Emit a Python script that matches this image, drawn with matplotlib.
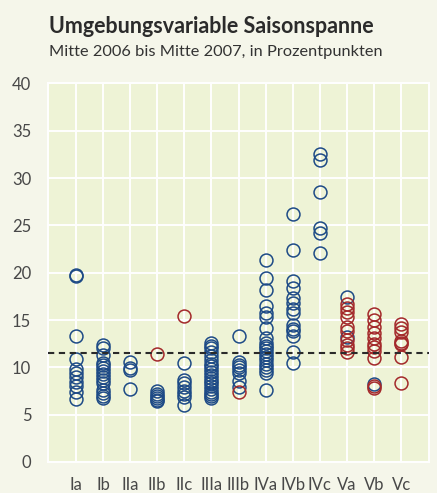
import matplotlib
matplotlib.use("Agg")
import matplotlib.pyplot as plt

categories = ["Ia", "Ib", "IIa", "IIb", "IIc", "IIIa", "IIIb", "IVa", "IVb", "IVc", "Va", "Vb", "Vc"]

blue_values = {
    "Ia": [19.8, 19.7, 13.3, 10.9, 9.8, 9.4, 9.0, 8.5, 8.0, 7.4, 6.7],
    "Ib": [12.4, 12.0, 11.3, 10.5, 10.2, 9.9, 9.6, 9.3, 9.0, 8.7, 8.3, 7.6, 7.3, 7.0, 6.8],
    "IIa": [10.6, 9.9, 9.7, 7.7],
    "IIb": [7.5, 7.2, 7.0, 6.8, 6.6, 6.4],
    "IIc": [10.5, 8.7, 8.3, 7.9, 7.5, 7.2, 6.9, 6.0],
    "IIIa": [12.6, 12.3, 12.0, 11.6, 11.2, 10.8, 10.4, 10.1, 9.8, 9.5, 9.2, 8.9, 8.6, 8.3, 8.0, 7.7, 7.4, 7.2, 7.0, 6.8],
    "IIIb": [13.3, 10.6, 10.3, 10.0, 9.7, 9.4, 8.6, 7.9],
    "IVa": [21.3, 19.4, 18.2, 16.5, 15.7, 15.3, 14.2, 13.1, 12.6, 12.3, 12.0, 11.7, 11.4, 11.1, 10.8, 10.4, 10.0, 9.7, 9.4, 7.6],
    "IVb": [26.2, 22.4, 19.1, 18.4, 17.3, 16.8, 16.2, 15.7, 14.5, 14.1, 13.8, 13.3, 11.6, 10.5],
    "IVc": [32.6, 31.9, 28.5, 24.7, 24.2, 22.1],
    "Va": [17.4, 13.2],
    "Vb": [8.2],
    "Vc": [],
}

red_values = {
    "IIb": [11.4],
    "IIc": [15.4],
    "IIIb": [7.4],
    "Va": [16.7, 16.3, 15.9, 15.3, 14.3, 13.8, 12.9, 12.4, 12.0, 11.6],
    "Vb": [15.6, 15.0, 14.3, 13.6, 13.1, 12.5, 12.2, 11.7, 11.0, 8.0, 7.8],
    "Vc": [14.6, 14.2, 13.7, 12.8, 12.6, 12.5, 11.1, 8.3],
}

reference_level = 11.55
y_ticks = [0, 5, 10, 15, 20, 25, 30, 35, 40]

title = "Umgebungsvariable Saisonspanne"
subtitle = "Mitte 2006 bis Mitte 2007, in Prozentpunkten"

BLUE = "#1d4a86"
RED = "#a3282a"
FIG_BG = "#f5f6ea"
AX_BG = "#eef3d6"

plt.rcParams["font.family"] = ["Lato", "DejaVu Sans"]

fig = plt.figure(figsize=(4.37, 4.93), dpi=100, facecolor=FIG_BG)
ax = fig.add_axes([48 / 437, 31 / 493, 381 / 437, 378.5 / 493])
ax.set_facecolor(AX_BG)

for i, cat in enumerate(categories):
    vals = blue_values.get(cat, [])
    if vals:
        ax.plot([i] * len(vals), vals, linestyle="none", marker="o", markersize=9.3,
                markerfacecolor="none", markeredgecolor=BLUE, markeredgewidth=1.1, zorder=3)
for i, cat in enumerate(categories):
    vals = red_values.get(cat, [])
    if vals:
        ax.plot([i] * len(vals), vals, linestyle="none", marker="o", markersize=9.3,
                markerfacecolor="none", markeredgecolor=RED, markeredgewidth=1.1, zorder=3)

ax.axhline(reference_level, color="#2a2a2a", linestyle=(0, (3, 2.2)), linewidth=1.5, zorder=4)

ax.set_xlim(-1.03, len(categories) - 1 + 1.03)
ax.set_ylim(0, 40)
ax.set_xticks(range(len(categories)))
ax.set_xticklabels(categories)
ax.set_yticks(y_ticks)
ax.set_yticklabels([str(t) for t in y_ticks])
ax.grid(True, color="white", linewidth=1.4, zorder=1)
ax.set_axisbelow(True)
for s in ax.spines.values():
    s.set_color("white")
    s.set_linewidth(1.4)
ax.tick_params(axis="both", length=0, labelsize=12, colors="#484848")
ax.tick_params(axis="x", pad=11)
ax.tick_params(axis="y", pad=12)

fig.text(49 / 437, 1 - 33 / 493, title, fontsize=15.5, fontweight="bold", color="#2b2b2b",
         ha="left", va="baseline")
fig.text(49 / 437, 1 - 56 / 493, subtitle, fontsize=11.8, color="#333333",
         ha="left", va="baseline")

fig.savefig("out.png", dpi=100, facecolor=FIG_BG)
